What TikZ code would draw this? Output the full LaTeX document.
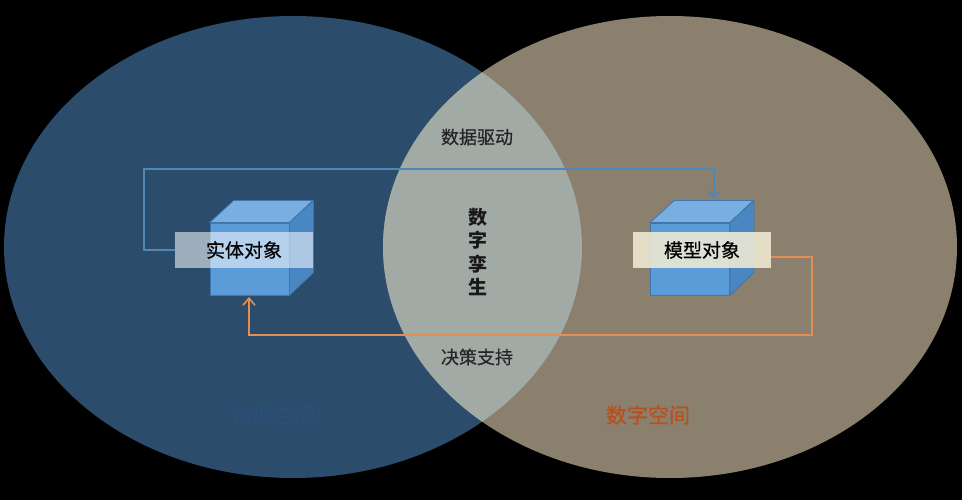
\documentclass[tikz,border=0pt]{standalone}
\usepackage{fontspec}
\newfontfamily\cjk[FakeBold=0.6]{Noto Sans CJK SC}
\newfontfamily\cjkb{Noto Sans CJK SC}
\usetikzlibrary{arrows.meta}
\definecolor{leftc}{HTML}{2C4C6C}
\definecolor{rightc}{HTML}{8A806D}
\definecolor{lensc}{HTML}{A2AAA6}
\definecolor{bluel}{HTML}{4F88B3}
\definecolor{orangel}{HTML}{E28E55}
\definecolor{cubefr}{HTML}{5B9BD8}
\definecolor{cubetop}{HTML}{79AEE3}
\definecolor{cubeside}{HTML}{4A86C2}
\definecolor{cubeedge}{HTML}{3F76AE}
\definecolor{creamc}{HTML}{F0EBD3}
\definecolor{spacered}{HTML}{B8501E}
\definecolor{spaceblue}{HTML}{2A5078}
\tikzset{
  cubefront/.style={draw=cubeedge, line width=0.8pt, fill=cubefr, minimum width=79pt, minimum height=72pt, inner sep=0pt},
  lblbox/.style={minimum width=138pt, minimum height=36pt, inner sep=0pt, font=\cjk\fontsize{19}{22}\selectfont, text=black},
  midtext/.style={font=\cjk\fontsize{18}{22}\selectfont, text=black!85},
  conn/.style={line width=1.6pt, arrows={-Straight Barb[length=7pt,width=12pt]}},
}
\begin{document}
\begin{tikzpicture}[x=1pt,y=-1pt]
\fill[black] (0,0) rectangle (962,500);
\useasboundingbox (0,0) rectangle (962,500);
% circles
\fill[leftc] (293,247) ellipse[x radius=289, y radius=231];
\fill[rightc] (670,247) ellipse[x radius=287, y radius=231];
\begin{scope}
  \clip (293,247) ellipse[x radius=289, y radius=231];
  \fill[lensc] (670,247) ellipse[x radius=287, y radius=231];
\end{scope}
% cubes
\node[cubefront] (c1) at (249.5,259) {};
\node[cubefront] (c2) at (690,259) {};
\foreach \c in {c1,c2}{
  \filldraw[draw=cubeedge, line width=0.8pt, fill=cubetop, line join=round]
    (\c.north west) -- ++(24,-22) -- ++(79,0) -- (\c.north east) -- cycle;
  \filldraw[draw=cubeedge, line width=0.8pt, fill=cubeside, line join=round]
    (\c.north east) -- ++(24,-22) -- ++(0,72) -- (\c.south east) -- cycle;
}
% labels
\node[lblbox, fill=white, fill opacity=0.55, text opacity=1] (l1) at (244,250) {实体对象};
\node[lblbox, fill=creamc, fill opacity=0.88, text opacity=1] (l2) at (702,250) {模型对象};
% connectors
\coordinate (b1) at (144,250);
\coordinate (b2) at (144,169);
\coordinate (b3) at (714,169);
\coordinate (c2top) at (714,199);
\draw[conn, bluel] (l1.west) -- (b1) -- (b2) -- (b3) -- (c2top);
\coordinate (o1) at (812,257);
\coordinate (o2) at (812,335);
\coordinate (o3) at (249,335);
\coordinate (c1bot) at (249,297);
\draw[conn, orangel] (l2.east |- o1) -- (o1) -- (o2) -- (o3) -- (c1bot);
% texts
\node[midtext] (t1) at (477,137) {数据驱动};
\node[midtext] (t2) at (477,357) {决策支持};
\node[font=\cjkb\bfseries\fontsize{19}{23.5}\selectfont, align=center, text=black!90] (t3) at (478,252) {数\\字\\孪\\生};
\node[font=\cjk\fontsize{21}{24}\selectfont, text=spacered] (t4) at (648,415) {数字空间};
\node[font=\cjk\fontsize{21}{24}\selectfont, text=spaceblue] (t5) at (273,415) {物理空间};
\end{tikzpicture}
\end{document}
